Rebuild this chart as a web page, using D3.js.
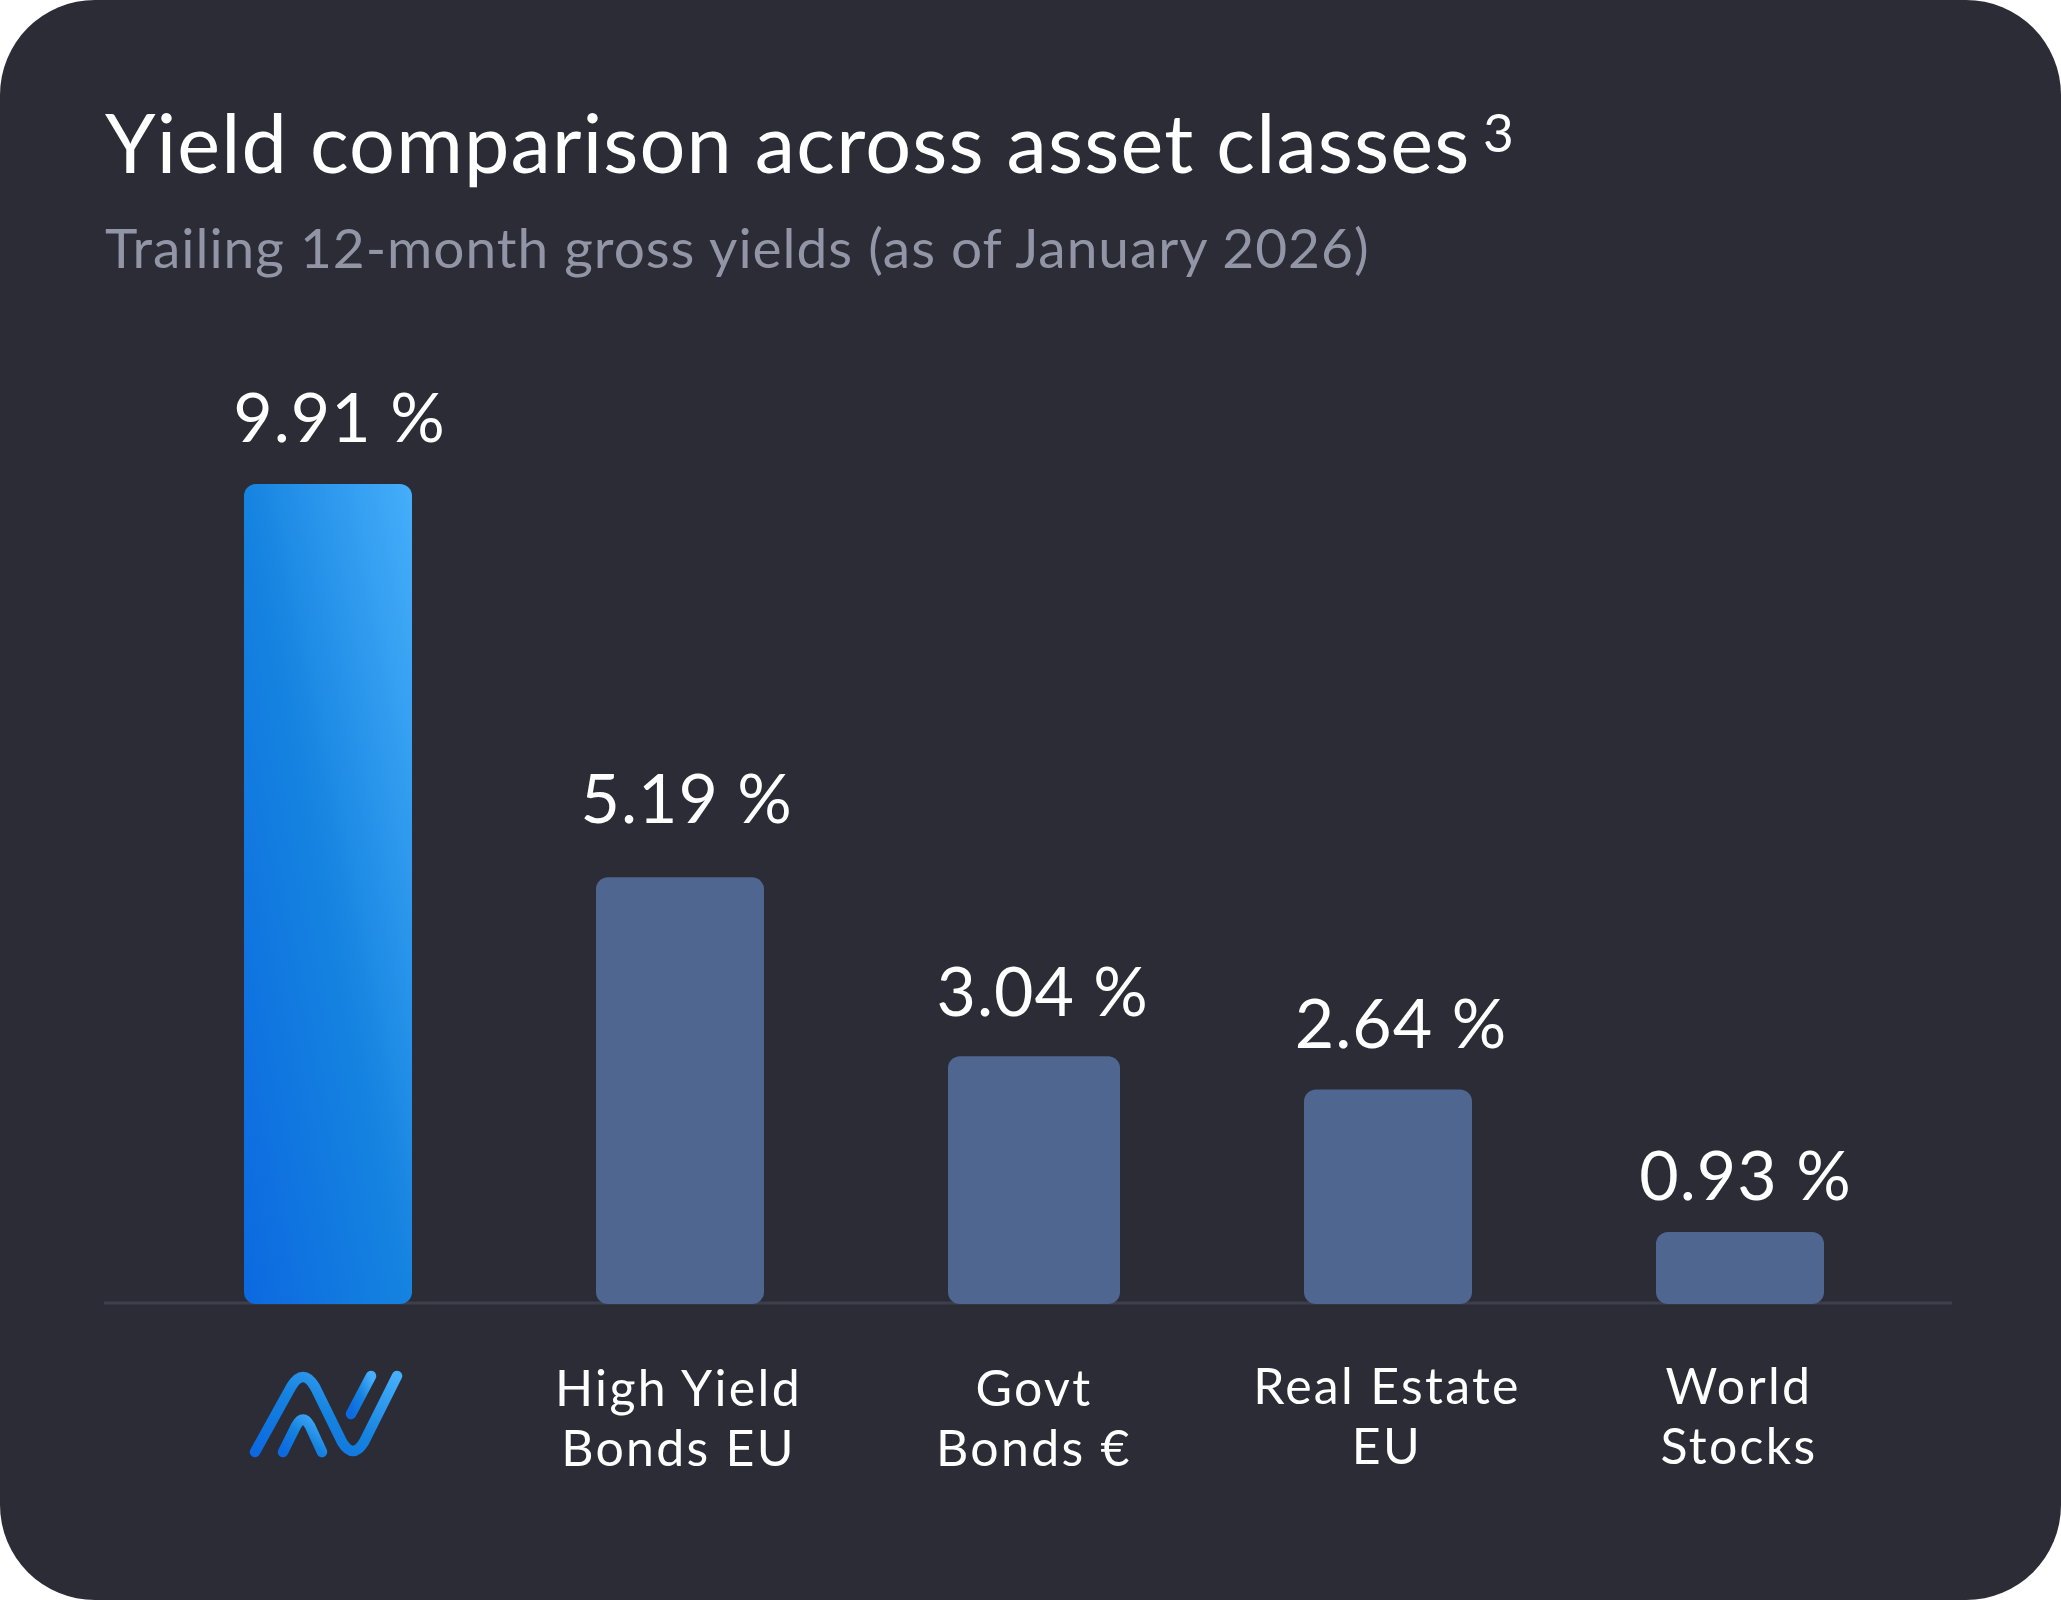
<!DOCTYPE html>
<html>
<head>
<meta charset="utf-8">
<script src="https://cdn.jsdelivr.net/npm/d3@7"></script>
<style>
    html, body { margin: 0; background: #fff; }
    svg { display: block; }
    text { font-family: Lato, sans-serif; }
</style>
</head>
<body>
<svg id="chart"></svg>
<script>
const categories = ["logo", "High Yield Bonds EU", "Govt Bonds €", "Real Estate EU", "World Stocks"];
const yields = [9.91, 5.19, 3.04, 2.64, 0.93];
const valueLabels = ["9.91 %", "5.19 %", "3.04 %", "2.64 %", "0.93 %"];
const tickLines = [[], ["High Yield", "Bonds EU"], ["Govt", "Bonds €"], ["Real Estate", "EU"], ["World", "Stocks"]];

const width = 2061, height = 1600;
const baseline = 1304;

const svg = d3.select("#chart").attr("width", width).attr("height", height);

const defs = svg.append("defs");
function blueGradient(id) {
    const g = defs.append("linearGradient").attr("id", id)
        .attr("x1", 0).attr("y1", 1).attr("x2", 1).attr("y2", 0);
    g.append("stop").attr("offset", "0%").attr("stop-color", "#0c69e0");
    g.append("stop").attr("offset", "50%").attr("stop-color", "#1583e0");
    g.append("stop").attr("offset", "100%").attr("stop-color", "#46aefa");
}
blueGradient("barBlue");
blueGradient("logoBlue");

const x = d3.scaleBand()
    .domain(categories)
    .range([151.5, 1916.5])
    .paddingInner(0.524)
    .paddingOuter(0.262);

// zero sits just under the rule, bars get cut off at the rule
const y = d3.scaleLinear().domain([0, 9.91]).range([1309.5, 484]);

// card
svg.append("rect")
    .attr("width", width).attr("height", height)
    .attr("rx", 95).attr("ry", 95)
    .attr("fill", "#2b2c36");

// title
svg.append("text")
    .attr("x", 105).attr("y", 173)
    .attr("fill", "#fff")
    .attr("font-size", 81)
    .attr("letter-spacing", 1.17)
    .text("Yield comparison across asset classes");
svg.append("text")
    .attr("x", 1483).attr("y", 152)
    .attr("fill", "#fff")
    .attr("font-size", 53)
    .text("3");
svg.append("text")
    .attr("x", 105).attr("y", 268)
    .attr("fill", "#9195a5")
    .attr("font-size", 55)
    .attr("letter-spacing", 0.98)
    .text("Trailing 12-month gross yields (as of January 2026)");

// baseline rule, sits behind the bars
svg.append("line")
    .attr("x1", 104).attr("x2", 1952)
    .attr("y1", baseline - 1).attr("y2", baseline - 1)
    .attr("stroke", "#3d3f4c").attr("stroke-width", 3);

// bars are not quite evenly placed in the original
const barNudge = [0, -1, 0, 1, 0];
const barExtra = [0, 0, 4, 0, 0];

svg.append("g").selectAll("rect")
    .data(categories)
    .join("rect")
    .attr("x", (d, i) => x(d) + barNudge[i] - barExtra[i] / 2)
    .attr("width", (d, i) => x.bandwidth() + barExtra[i])
    .attr("y", (d, i) => y(yields[i]))
    .attr("height", (d, i) => baseline - y(yields[i]))
    .attr("rx", 12).attr("ry", 12)
    .attr("fill", (d, i) => i == 0 ? "url(#barBlue)" : "#4f6690");

// labels were placed by hand in the original, so they need small nudges
const valueNudgeX = [11.5, 5.7, 8.7, 14, 5.5];
const valueGap = [42, 54, 40, 42, 32];

svg.append("g").selectAll("text")
    .data(valueLabels)
    .join("text")
    .attr("x", (d, i) => x(categories[i]) + x.bandwidth() / 2 + valueNudgeX[i])
    .attr("y", (d, i) => y(yields[i]) - valueGap[i])
    .attr("text-anchor", "middle")
    .attr("fill", "#fff")
    .attr("font-size", 68)
    .attr("letter-spacing", 1)
    .text(d => d);

const tickNudgeX = [0, -2.5, 0, 0, -1];
const tickNudgeY = [0, 0, 0, -2, -2];

const ticks = svg.append("g").selectAll("text")
    .data(tickLines)
    .join("text")
    .attr("text-anchor", "middle")
    .attr("fill", "#fff")
    .attr("font-size", 50)
    .attr("letter-spacing", 2.3);

ticks.selectAll("tspan")
    .data((d, i) => d.map(line => ({line, i})))
    .join("tspan")
    .attr("x", d => x(categories[d.i]) + x.bandwidth() / 2 + tickNudgeX[d.i])
    .attr("y", (d, j) => 1406 + j * 59.5 + tickNudgeY[d.i])
    .text(d => d.line);

// logo in place of the first category label
const logo = svg.append("g")
    .attr("transform", `translate(${x("logo") + x.bandwidth() / 2 + 1},0)`)
    .attr("fill", "none")
    .attr("stroke", "url(#logoBlue)")
    .attr("stroke-width", 10.5)
    .attr("stroke-linecap", "round")
    .attr("stroke-linejoin", "round");
logo.append("path").attr("d", "M-74,1452 L-38,1387 Q-26,1367 -14,1387 L13,1442 Q24,1460 35,1442 L68,1376");
logo.append("path").attr("d", "M-46,1452 L-33,1426 Q-26,1413 -19,1426 L-7,1452");
logo.append("path").attr("d", "M22,1414 L42,1376");
</script>
</body>
</html>
